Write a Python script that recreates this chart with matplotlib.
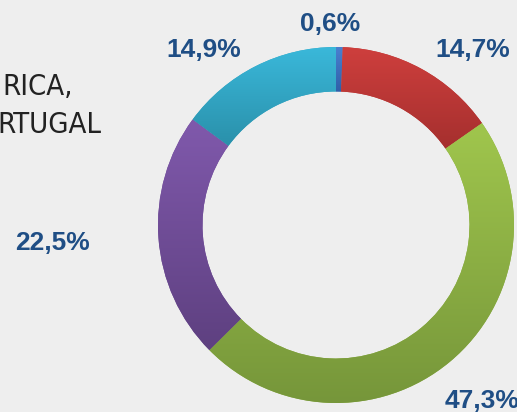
import numpy as np
import matplotlib.pyplot as plt
from matplotlib.colors import LinearSegmentedColormap

# share of each segment, clockwise from 12 o'clock
segments = ['blue', 'red', 'green', 'purple', 'cyan']
shares = [0.6, 14.7, 47.3, 22.5, 14.9]
top_colors = ['#4A80D0', '#CE3F3D', '#A0C64D', '#8059AC', '#3AB8DA']
bottom_colors = ['#2F5FA8', '#A52F2E', '#76963A', '#5E4080', '#2A90AA']

bg = '#EEEEEE'
label_color = '#1F4E85'

W, H = 517, 412
cx, cy, R = 336, 412 - 225, 178

fig = plt.figure(figsize=(W / 100, H / 100), dpi=100)
fig.patch.set_facecolor(bg)

ax = fig.add_axes([(cx - R) / W, (cy - R) / H, 2 * R / W, 2 * R / H])
ax.set_facecolor(bg)
mid_colors = [LinearSegmentedColormap.from_list('m', [t, b])(0.5)
              for t, b in zip(top_colors, bottom_colors)]
wedges, _ = ax.pie(shares, colors=mid_colors, startangle=90, counterclock=False,
                   radius=1.0, wedgeprops=dict(width=0.25, edgecolor='none'))

# vertical gradient inside each segment, lighter at the top
grad = np.linspace(0, 1, 256).reshape(-1, 1)
for w, t, b in zip(wedges, top_colors, bottom_colors):
    ext = w.get_path().get_extents()
    cmap = LinearSegmentedColormap.from_list('g', [t, b])
    im = ax.imshow(grad, cmap=cmap, aspect='auto', origin='upper',
                   extent=[ext.x0, ext.x1, ext.y0, ext.y1], zorder=3)
    im.set_clip_path(w)

ax.set_xlim(-1, 1)
ax.set_ylim(-1, 1)
ax.set_aspect('equal')
ax.axis('off')

# label centres in pixels (x from left, y from top)
label_pos = [(330, 24), (473, 50), (482, 401), (53, 243), (204, 50)]
for val, (px, py) in zip(shares, label_pos):
    txt = f'{val:.1f}'.replace('.', ',') + '%'
    fig.text(px / W, 1 - py / H, txt, ha='center', va='center',
             fontsize=19, fontweight='bold', color=label_color,
             family='Liberation Sans')

# clipped title at the left edge
fig.text(73 / W, 1 - 87 / H, 'RICA,', ha='right', va='center',
         fontsize=21, color='#222222', family='DejaVu Sans',
         fontstretch='condensed')
fig.text(101 / W, 1 - 125 / H, 'RTUGAL', ha='right', va='center',
         fontsize=21, color='#222222', family='DejaVu Sans',
         fontstretch='condensed')

fig.savefig('out.png', dpi=100, facecolor=bg)
